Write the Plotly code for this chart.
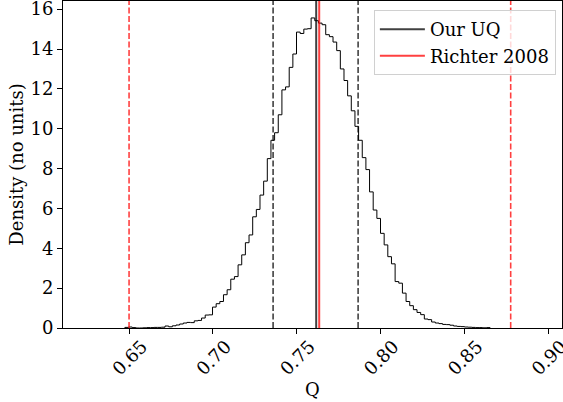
import plotly.graph_objects as go

# ---- data ----
bin_start = 0.6475
bin_width = 0.002178
density = [
    0.03, 0.05, 0.02, 0.0, 0.0, 0.01, 0.02, 0.02, 0.03, 0.03,
    0.04, 0.10, 0.06, 0.11, 0.15, 0.20, 0.25, 0.28, 0.27, 0.36,
    0.38, 0.50, 0.65, 0.66, 1.05, 1.22, 1.33, 1.67, 1.92, 2.45,
    2.58, 3.17, 3.67, 4.28, 4.67, 5.58, 5.95, 6.67, 7.37, 8.50,
    9.42, 9.80, 10.70, 11.95, 12.10, 13.08, 13.75, 14.85, 14.78, 15.00,
    15.02, 15.56, 15.42, 15.30, 15.22, 14.72, 14.62, 14.35, 13.92, 13.00,
    12.42, 11.65, 10.90, 10.12, 9.42, 8.55, 7.95, 6.83, 5.92, 5.50,
    4.75, 4.17, 3.58, 3.22, 2.33, 2.25, 1.75, 1.33, 1.12, 0.92,
    0.78, 0.67, 0.45, 0.42, 0.30, 0.25, 0.22, 0.18, 0.17, 0.14,
    0.10, 0.08, 0.07, 0.05, 0.04, 0.03, 0.02, 0.02, 0.01, 0.02,
]
our_uq = [0.7359, 0.7616, 0.7866]      # lower, central, upper
richter = [0.6500, 0.7634, 0.8776]     # lower, central, upper
x_ticks = [0.65, 0.70, 0.75, 0.80, 0.85, 0.90]
y_ticks = [0, 2, 4, 6, 8, 10, 12, 14, 16]

x_range = [0.6106, 0.9082]
y_range = [0, 16.41]

# ---- build step outline ----
n = len(density)
edges = [bin_start + i * bin_width for i in range(n + 1)]
xs = [edges[0]] + edges[:n] + [edges[n]]
ys = [0] + density + [0]

FONT = "DejaVu Serif"
FS = 18
BLACK = "rgba(0,0,0,0.75)"
RED = "rgba(255,0,0,0.75)"

fig = go.Figure()
fig.add_trace(go.Scatter(
    x=xs, y=ys, mode="lines", line=dict(color="black", width=1, shape="hv"),
    showlegend=False, hoverinfo="skip"))

def vline(x, color, dash, name=None):
    fig.add_trace(go.Scatter(
        x=[x, x], y=[y_range[0], y_range[1]], mode="lines",
        line=dict(color=color, width=2 if dash == "solid" else 1.6, dash=dash),
        name=name, showlegend=name is not None, hoverinfo="skip"))

vline(our_uq[1], BLACK, "solid", "Our UQ")
vline(richter[1], RED, "solid", "Richter 2008")
vline(our_uq[0], BLACK, "6px,2.5px")
vline(our_uq[2], BLACK, "6px,2.5px")
vline(richter[0], RED, "6px,2.5px")
vline(richter[2], RED, "6px,2.5px")

axis_common = dict(
    showline=True, linecolor="black", linewidth=1, mirror=True,
    ticks="outside", ticklen=5, tickwidth=1, tickcolor="black",
    showgrid=False, zeroline=False, automargin=False,
    ticklabeloverflow="allow",
    tickfont=dict(family=FONT, size=FS, color="black"),
)

fig.update_layout(
    width=563, height=402,
    margin=dict(l=63, r=1, t=1, b=74, autoexpand=False),
    plot_bgcolor="white", paper_bgcolor="white",
    font=dict(family=FONT, size=FS, color="black"),
    xaxis=dict(range=x_range, tickvals=x_ticks,
               ticktext=[f"{v:.2f}" for v in x_ticks],
               tickangle=-45, ticklabelshift=13, ticklabelstandoff=-5,
               title=dict(text="Q", font=dict(family=FONT, size=FS), standoff=0),
               **axis_common),
    yaxis=dict(range=y_range, tickvals=y_ticks,
               title=dict(text="Density (no units)", font=dict(family=FONT, size=FS), standoff=2),
               **axis_common),
    legend=dict(x=0.623, y=0.972, xanchor="left", yanchor="top",
                bgcolor="rgba(255,255,255,0.8)", bordercolor="#d0d0d0", borderwidth=1,
                font=dict(family=FONT, size=FS, color="black"),
                itemwidth=45, tracegroupgap=0),
)

fig.write_html("out.html", config={"displayModeBar": False},
               post_script="document.body.style.margin='0px';")
